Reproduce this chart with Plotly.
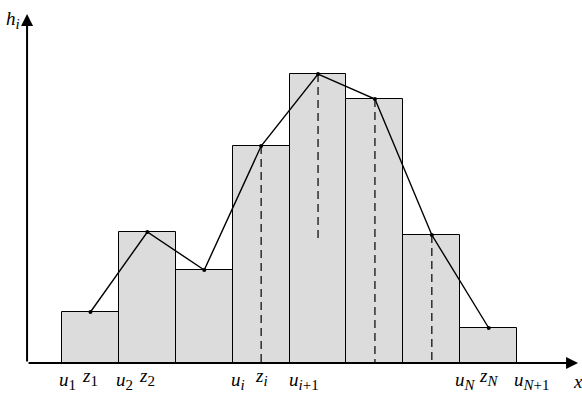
import plotly.graph_objects as go

# data
edges = [0, 1, 2, 3, 4, 5, 6, 7, 8]
heights = [5.1, 13.1, 9.3, 21.7, 28.9, 26.4, 12.8, 3.5]
mids = [e + 0.5 for e in edges[:-1]]
dashed_idx = [3, 4, 5, 6]
dashed_bottom = [0, 12.3, 0, 0]

u_labels = [(0, "u", "1"), (1, "u", "2"), (3, "u", "<i>i</i>"), (4, "u", "<i>i</i>+1"), (7, "u", "<i>N</i>"), (8, "u", "<i>N</i>+1")]
z_labels = [(0, "z", "1"), (1, "z", "2"), (3, "z", "<i>i</i>"), (7, "z", "<i>N</i>")]

x0 = -0.614
fig = go.Figure()
fig.add_trace(go.Bar(x=mids, y=heights, width=1, marker=dict(color="#DCDCDC", line=dict(color="black", width=1)),
                     hoverinfo="skip"))
for i, yb in zip(dashed_idx, dashed_bottom):
    fig.add_trace(go.Scatter(x=[mids[i], mids[i]], y=[heights[i], yb], mode="lines",
                             line=dict(color="black", width=1.2, dash="8px,5px"), hoverinfo="skip"))
fig.add_trace(go.Scatter(x=mids, y=heights, mode="lines+markers", line=dict(color="black", width=1.4),
                         marker=dict(color="black", size=4), hoverinfo="skip"))

ann = []
# axes arrows
ann.append(dict(x=9.07, y=0, ax=x0, ay=0, xref="x", yref="y", axref="x", ayref="y", showarrow=True,
                arrowhead=2, arrowsize=1.2, arrowwidth=2, arrowcolor="black", text=""))
ann.append(dict(x=x0, y=34.9, ax=x0, ay=0, xref="x", yref="y", axref="x", ayref="y", showarrow=True,
                arrowhead=2, arrowsize=1.2, arrowwidth=2, arrowcolor="black", text=""))
font = dict(family="Liberation Serif", size=19, color="black")
def lab(s, sub):
    return f"<i>{s}</i><sub><span style='font-size:15px;font-family:Liberation Serif'>{sub}</span></sub>"
for k, (e, s, sub) in enumerate(u_labels):
    off = 0.1 if "+" not in sub else 0.25
    ann.append(dict(x=edges[e] + off, y=-1.8, xref="x", yref="y", showarrow=False,
                    text=lab(s, sub), font=font))
for e, s, sub in z_labels:
    ann.append(dict(x=mids[e] + 0.0, y=-1.4, xref="x", yref="y", showarrow=False,
                    text=lab(s, sub), font=font))
ann.append(dict(x=9.06, y=-1.8, xref="x", yref="y", showarrow=False, text="<i>x</i>", font=font))
ann.append(dict(x=-0.87, y=34.3, xref="x", yref="y", showarrow=False, text=lab("h", "<i>i</i>"), font=font))

fig.update_layout(
    width=582, height=397, margin=dict(l=0, r=0, t=0, b=0),
    paper_bgcolor="white", plot_bgcolor="white", showlegend=False,
    xaxis=dict(range=[-1.0896, 9.139], visible=False),
    yaxis=dict(range=[-3.4, 36.3], visible=False),
    annotations=ann, bargap=0,
)
fig.write_html("out.html", config={"displayModeBar": False},
               post_script="document.body.style.margin='0';document.body.style.overflow='hidden';")
